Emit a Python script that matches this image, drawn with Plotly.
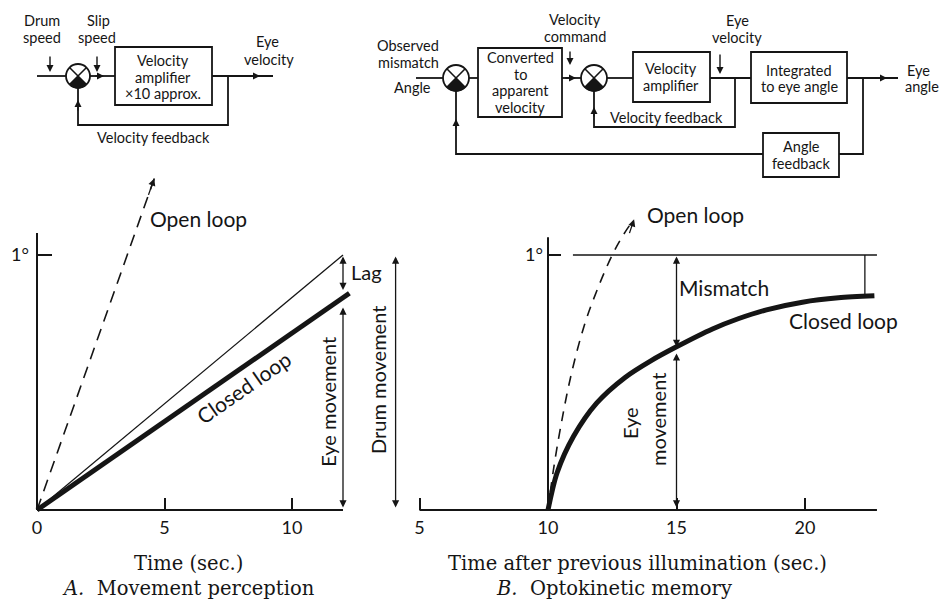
import math
import plotly.graph_objects as go

# ---------------- data ----------------
# A. Movement perception
timeA_drum = [0, 12.0]
drumA = [0, 1.0]
timeA_eye = [0, 12.25]
eyeA = [0, 0.85]
timeA_open = [0, 4.6]
openA = [0, 1.30]

# B. Optokinetic memory
timeB_closed = [10, 10.35, 11.0, 11.9, 13.0, 14.0, 15.0, 16.4, 17.4, 18.5, 19.9, 21.3, 22.7]
closedB = [0, 0.145, 0.29, 0.42, 0.52, 0.585, 0.64, 0.71, 0.75, 0.785, 0.815, 0.832, 0.84]
timeB_open = [10, 10.2, 10.5, 10.9, 11.4, 11.9, 12.5, 13.0, 13.35]
openB = [0, 0.15, 0.33, 0.53, 0.72, 0.86, 1.0, 1.09, 1.14]
timeB_drum = [10.97, 22.8]
drumB = [1.0, 1.0]
mismatch_end_t = 22.33

ticksA = [0, 5, 10]
ticksB = [5, 10, 15, 20]
ytick_vals = [1]
ytick_text = ["1°"]

# ---------------- layout helpers ----------------
W, H = 940, 601
SANS = "Lato"
SERIF = "DejaVu Serif"
INK = "#151515"
LABEL = 21      # chart labels
DIAG = 14.5     # block-diagram labels
CAP = 19.5      # captions


def px(x):
    return x / W


def py(y):
    return 1 - y / H


fig = go.Figure()

# ---- chart A traces ----
fig.add_trace(go.Scatter(x=timeA_drum, y=drumA, mode="lines", xaxis="x", yaxis="y",
                         line=dict(color=INK, width=1.3), hoverinfo="skip"))
fig.add_trace(go.Scatter(x=timeA_eye, y=eyeA, mode="lines", xaxis="x", yaxis="y",
                         line=dict(color=INK, width=5), hoverinfo="skip"))
fig.add_trace(go.Scatter(x=timeA_open, y=openA, mode="lines", xaxis="x", yaxis="y",
                         line=dict(color=INK, width=1.6, dash="12px,8px"), hoverinfo="skip"))

# ---- chart B traces ----
fig.add_trace(go.Scatter(x=timeB_drum, y=drumB, mode="lines", xaxis="x2", yaxis="y2",
                         line=dict(color=INK, width=1.5), hoverinfo="skip"))
fig.add_trace(go.Scatter(x=timeB_closed, y=closedB, mode="lines", xaxis="x2", yaxis="y2",
                         line=dict(color=INK, width=5, shape="spline", smoothing=0.8), hoverinfo="skip"))
fig.add_trace(go.Scatter(x=timeB_open, y=openB, mode="lines", xaxis="x2", yaxis="y2",
                         line=dict(color=INK, width=1.6, dash="10px,8px", shape="spline"), hoverinfo="skip"))
fig.add_trace(go.Scatter(x=[mismatch_end_t, mismatch_end_t], y=[drumB[1], closedB[-1]], mode="lines",
                         xaxis="x2", yaxis="y2", line=dict(color=INK, width=1.3), hoverinfo="skip"))

shapes = []
annotations = []

# axis lines for the charts (data coordinates)
shapes.append(dict(type="line", xref="x", yref="y", x0=0, y0=0, x1=0, y1=1.086,
                   line=dict(color=INK, width=2)))
shapes.append(dict(type="line", xref="x", yref="y", x0=0, y0=0, x1=12.0, y1=0,
                   line=dict(color=INK, width=2)))
shapes.append(dict(type="line", xref="x2", yref="y2", x0=10, y0=0, x1=10, y1=1.07,
                   line=dict(color=INK, width=2)))
shapes.append(dict(type="line", xref="x2", yref="y2", x0=5, y0=0, x1=22.8, y1=0,
                   line=dict(color=INK, width=2)))


def data_arrow(x, y_tail, y_tip, xr, yr, double=True):
    annotations.append(dict(x=x, y=y_tip, ax=x, ay=y_tail, xref=xr, yref=yr, axref=xr, ayref=yr,
                            text="", showarrow=True, arrowhead=2, startarrowhead=2,
                            arrowside="end+start" if double else "end",
                            arrowsize=1.1, startarrowsize=1.1, arrowwidth=1.3, arrowcolor=INK,
                            standoff=0, startstandoff=0))


def data_text(x, y, s, xr, yr, size=LABEL, angle=0, xanchor="center", font=SANS):
    annotations.append(dict(x=x, y=y, xref=xr, yref=yr, text=s, showarrow=False, textangle=angle,
                            xanchor=xanchor, yanchor="middle",
                            font=dict(family=font, size=size, color=INK)))


# A annotations
data_arrow(12.0, 1.0, 0.863, "x", "y")
data_arrow(12.0, 0.80, 0.01, "x", "y")
data_arrow(4.07, 1.0, 0.01, "x2", "y2")
annotations.append(dict(x=timeA_open[-1], y=openA[-1], ax=timeA_open[-1] - 0.25, ay=openA[-1] - 0.07,
                        xref="x", yref="y", axref="x", ayref="y", text="", showarrow=True,
                        arrowhead=2, arrowsize=1.1, arrowwidth=1.3, arrowcolor=INK, standoff=0))
data_text(6.35, 1.145, "Open loop", "x", "y")
data_text(8.08, 0.482, "Closed loop", "x", "y", angle=-34.8)
data_text(12.25, 0.933, "Lag", "x", "y", xanchor="left", size=20)
data_text(11.41, 0.424, "Eye movement", "x", "y", angle=-90, size=20)
data_text(3.385, 0.51, "Drum movement", "x2", "y2", angle=-90, size=20)

# B annotations
data_arrow(15.0, 1.0, 0.64, "x2", "y2")
data_arrow(15.0, 0.62, 0.01, "x2", "y2")
annotations.append(dict(x=timeB_open[-1], y=openB[-1], ax=timeB_open[-1] - 0.2, ay=openB[-1] - 0.06,
                        xref="x2", yref="y2", axref="x2", ayref="y2", text="", showarrow=True,
                        arrowhead=2, arrowsize=1.1, arrowwidth=1.3, arrowcolor=INK, standoff=0))
data_text(15.75, 1.157, "Open loop", "x2", "y2")
data_text(15.0, 0.871, "Mismatch", "x2", "y2", xanchor="left")
data_text(21.5, 0.745, "Closed loop", "x2", "y2")
data_text(13.19, 0.341, "Eye", "x2", "y2", angle=-90, size=20)
data_text(14.28, 0.353, "movement", "x2", "y2", angle=-90, size=20)


# captions
def ptext(x, y, s, size=DIAG, font=SANS, xanchor="center"):
    annotations.append(dict(x=px(x), y=py(y), xref="paper", yref="paper", text=s, showarrow=False,
                            xanchor=xanchor, yanchor="middle",
                            font=dict(family=font, size=size, color=INK)))


ptext(188, 563, "Time (sec.)", size=CAP, font=SERIF)
ptext(188, 588, "<i>A.</i>  Movement perception", size=CAP, font=SERIF)
ptext(637, 563, "Time after previous illumination (sec.)", size=CAP, font=SERIF)
ptext(614, 588, "<i>B.</i>  Optokinetic memory", size=CAP, font=SERIF)

# ---------------- block diagrams (pixel positions -> paper) ----------------
LW = 1.8


def pline(pts, w=LW):
    path = "M " + " L ".join(f"{px(x):.5f},{py(y):.5f}" for x, y in pts)
    shapes.append(dict(type="path", xref="paper", yref="paper", path=path,
                       line=dict(color=INK, width=w)))


def pbox(x0, y0, x1, y1):
    shapes.append(dict(type="rect", xref="paper", yref="paper", x0=px(x0), x1=px(x1),
                       y0=py(y1), y1=py(y0), line=dict(color=INK, width=LW)))


def parrow(tail, tip):
    annotations.append(dict(x=px(tip[0]), y=py(tip[1]), xref="paper", yref="paper",
                            ax=tail[0] - tip[0], ay=tail[1] - tip[1], text="", showarrow=True,
                            arrowhead=2, arrowsize=1.0, arrowwidth=1.4, arrowcolor=INK, standoff=0))


def junction(cx, cy, r):
    shapes.append(dict(type="circle", xref="paper", yref="paper", x0=px(cx - r), x1=px(cx + r),
                       y0=py(cy + r), y1=py(cy - r), line=dict(color=INK, width=LW)))
    d = r / math.sqrt(2)
    pline([(cx - d, cy - d), (cx + d, cy + d)], 1.6)
    pline([(cx - d, cy + d), (cx + d, cy - d)], 1.6)
    pts = [(cx, cy)]
    for k in range(0, 19):
        a = math.radians(45 + 90 * k / 18)
        pts.append((cx + r * math.cos(a), cy + r * math.sin(a)))
    path = "M " + " L ".join(f"{px(x):.5f},{py(y):.5f}" for x, y in pts) + " Z"
    shapes.append(dict(type="path", xref="paper", yref="paper", path=path,
                       fillcolor=INK, line=dict(color=INK, width=1)))


# diagram 1 (A)
ptext(42, 21, "Drum"); ptext(42, 38, "speed")
ptext(98, 21, "Slip"); ptext(97, 38, "speed")
ptext(163, 60, "Velocity"); ptext(163, 77, "amplifier"); ptext(163, 94, "×10 approx.")
ptext(267, 42, "Eye"); ptext(269, 59, "velocity")
ptext(153, 137, "Velocity feedback")
pline([(37, 76), (66, 76)])
junction(78, 76, 12)
pline([(90, 76), (115, 76)])
parrow((94, 76), (104, 76))
pbox(115, 47, 212, 105)
pline([(212, 76), (273, 76)])
parrow((248, 76), (260, 76))
pline([(228, 76), (228, 125), (78, 125), (78, 88)])
parrow((78, 112), (78, 100))
parrow((50, 55), (50, 72))
parrow((97, 55), (97, 72))

# diagram 2 (B)
ML = 78
ptext(408, 45, "Observed"); ptext(408, 62, "mismatch"); ptext(412, 88, "Angle")
ptext(520, 57.5, "Converted"); ptext(520, 74, "to"); ptext(520, 90.5, "apparent"); ptext(520, 107, "velocity")
ptext(575, 20, "Velocity"); ptext(575, 37, "command")
ptext(671, 68.5, "Velocity"); ptext(671, 85.5, "amplifier")
ptext(737, 20.5, "Eye"); ptext(737, 37.5, "velocity")
ptext(666, 117, "Velocity feedback")
ptext(799, 70, "Integrated"); ptext(799, 87, "to eye angle")
ptext(801, 146, "Angle"); ptext(801, 163, "feedback")
ptext(918, 70, "Eye"); ptext(922, 87, "angle")

pline([(416, ML), (443, ML)])
junction(456, ML, 13)
pline([(469, ML), (478, ML)])
pbox(478, 48, 562, 117)
pline([(562, ML), (581, ML)])
parrow((564, ML), (576, ML))
junction(594, ML, 13)
pline([(607, ML), (633, ML)])
pbox(633, 52, 710, 102)
pline([(710, ML), (751, ML)])
pbox(751, 52, 847, 103)
pline([(847, ML), (898, ML)])
parrow((874, ML), (887, ML))
parrow((570, 50), (570, 65))
parrow((720, 53), (720, 74))
pline([(735, ML), (735, 127), (594, 127), (594, 91)])
parrow((594, 118), (594, 107))
pline([(863, ML), (863, 154), (839, 154)])
pbox(763, 133, 839, 177)
pline([(763, 154), (456, 154), (456, 91)])
parrow((456, 130), (456, 119))

# ---------------- axes ----------------
tickfont = dict(family=SANS, size=18, color=INK)
axis_common = dict(showgrid=False, zeroline=False, showline=False, ticks="inside",
                   tickcolor=INK, tickwidth=1.6, tickfont=tickfont, fixedrange=True)

# A: x px = 37 + 25.5*t ; y px = 510 - 255*v ; B: x px = 548 + 25.7*(t-10)
xA_range = [-0.5, 12.9]
xB_range = [3.2, 23.5]
y_range = [-0.04, 1.4]
fig.update_layout(
    xaxis=dict(domain=[px(37 + 25.5 * xA_range[0]), px(37 + 25.5 * xA_range[1])], range=xA_range,
               anchor="free", position=py(510), tickvals=ticksA, ticklen=12,
               ticklabelstandoff=5, **axis_common),
    yaxis=dict(domain=[py(510 - 255 * y_range[0]), py(510 - 255 * y_range[1])], range=y_range,
               anchor="free", position=px(37), tickvals=ytick_vals, ticktext=ytick_text, ticklen=14,
               ticklabelstandoff=8, **axis_common),
    xaxis2=dict(domain=[px(548 + 25.7 * (xB_range[0] - 10)), px(548 + 25.7 * (xB_range[1] - 10))],
                range=xB_range, anchor="free", position=py(510), tickvals=ticksB, ticklen=12,
                ticklabelstandoff=5, **axis_common),
    yaxis2=dict(domain=[py(510 - 255 * y_range[0]), py(510 - 255 * y_range[1])], range=y_range,
                anchor="free", position=px(548), tickvals=ytick_vals, ticktext=ytick_text, ticklen=12,
                ticklabelstandoff=5, **axis_common),
    width=W, height=H, margin=dict(l=0, r=0, t=0, b=0),
    paper_bgcolor="white", plot_bgcolor="rgba(0,0,0,0)",
    showlegend=False, shapes=shapes, annotations=annotations,
)

fig.write_html("out.html", config={"displayModeBar": False})
